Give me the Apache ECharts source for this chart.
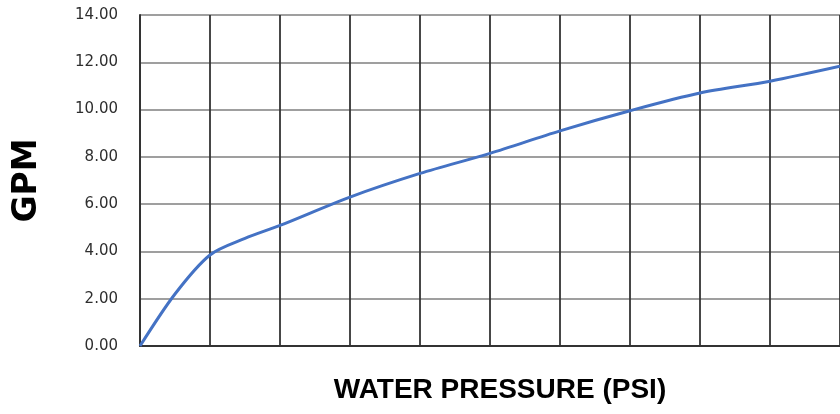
<!DOCTYPE html>
<html>
<head>
<meta charset="utf-8">
<script src="https://cdn.jsdelivr.net/npm/echarts@6/dist/echarts.min.js"></script>
<style>
  html, body { margin: 0; padding: 0; background: #ffffff; }
  #chart { width: 840px; height: 414px; }
</style>
</head>
<body>
<div id="chart"></div>
<script>
// Flow rate (GPM) versus water pressure (PSI)
const pressurePsi = [0, 5, 10, 15, 20, 30, 40, 50, 60, 70, 80, 90, 100];
const flowGpm     = [0, 2.2, 3.85, 4.55, 5.1, 6.3, 7.3, 8.15, 9.1, 9.95, 10.7, 11.2, 11.83];
const yTicks = [0, 2, 4, 6, 8, 10, 12, 14];

const points = pressurePsi.map((p, i) => [p, flowGpm[i]]);

const chart = echarts.init(document.getElementById('chart'), null, { renderer: 'canvas' });
chart.setOption({
  animation: false,
  backgroundColor: '#ffffff',
  grid: { left: 140, top: 15, right: -3, bottom: 68, containLabel: false },
  xAxis: {
    type: 'value',
    min: 0,
    max: 100,
    interval: 10,
    name: 'WATER PRESSURE (PSI)',
    nameLocation: 'middle',
    nameGap: 30,
    nameTextStyle: {
      fontFamily: 'Liberation Sans',
      fontWeight: 'bold',
      fontSize: 28,
      color: '#000000',
      padding: [0, 0, 0, 20]
    },
    axisLine: { show: true, lineStyle: { color: '#333333', width: 2 } },
    axisTick: { show: false },
    axisLabel: { show: false },
    splitLine: { show: true, lineStyle: { color: '#333333', width: 1.8 } }
  },
  yAxis: {
    type: 'value',
    min: yTicks[0],
    max: yTicks[yTicks.length - 1],
    interval: 2,
    name: 'GPM',
    nameLocation: 'middle',
    nameRotate: 90,
    nameGap: 96,
    nameTextStyle: {
      fontFamily: 'DejaVu Sans',
      fontWeight: 'bold',
      fontSize: 33,
      color: '#000000'
    },
    axisLine: { show: true, lineStyle: { color: '#333333', width: 2 } },
    axisTick: { show: false },
    axisLabel: {
      margin: 22,
      fontFamily: 'DejaVu Sans',
      fontSize: 15,
      color: '#2e2e2e',
      formatter: v => v.toFixed(2)
    },
    splitLine: { show: true, lineStyle: { color: '#7f7f7f', width: 1.6 } }
  },
  series: [{
    type: 'line',
    data: points,
    smooth: 0.3,
    showSymbol: false,
    lineStyle: { color: '#4472C4', width: 3 },
    itemStyle: { color: '#4472C4' }
  }]
});
</script>
</body>
</html>
